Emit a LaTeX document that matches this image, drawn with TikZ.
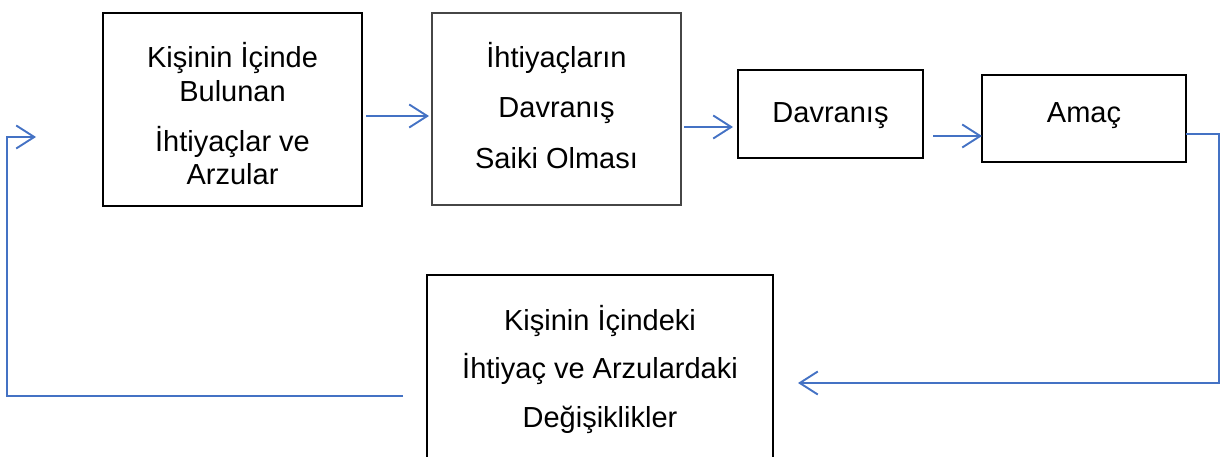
\documentclass[tikz,border=0pt]{standalone}
\usepackage{fontspec}
\setmainfont{Liberation Sans}
\usetikzlibrary{arrows.meta,calc}
\definecolor{arrblue}{RGB}{68,114,196}
\definecolor{boxgray}{RGB}{70,70,70}
\begin{document}
\begin{tikzpicture}[x=1pt,y=-1pt,
  box/.style={draw=black,line width=1.8pt,inner sep=0pt,outer sep=0pt,rectangle},
  lbl/.style={anchor=base,inner sep=0pt,font=\fontsize{29}{33}\selectfont},
  arr/.style={draw=arrblue,line width=1.9pt,-{Straight Barb[length=18pt,width=23pt,line width=1.9pt]}}]
\useasboundingbox (0,0) rectangle (1225,457);
\clip (0,0) rectangle (1225,457);
\node[box,minimum width=259pt,minimum height=193pt] (b1) at (232.5,109.5) {};
\node[box,draw=boxgray,line width=1.3pt,minimum width=249pt,minimum height=192pt] (b2) at (556.5,109) {};
\node[box,minimum width=185pt,minimum height=88pt] (b3) at (830.5,114) {};
\node[box,minimum width=204pt,minimum height=87pt] (b4) at (1084,118.5) {};
\node[box,minimum width=346pt,minimum height=200pt] (b5) at (600,375) {};
% labels
\node[lbl] (t1a) at (232.5,68) {Kişinin İçinde};
\node[lbl] (t1b) at (232.5,102) {Bulunan};
\node[lbl] (t1c) at (232.5,152) {İhtiyaçlar ve};
\node[lbl] (t1d) at (232.5,185) {Arzular};
\node[lbl] (t2a) at (556.5,68) {İhtiyaçların};
\node[lbl] (t2b) at (556.5,118) {Davranış};
\node[lbl] (t2c) at (556.5,168) {Saiki Olması};
\node[lbl] (t3) at (830.5,123) {Davranış};
\node[lbl] (t4) at (1084,123) {Amaç};
\node[lbl] (t5a) at (600,330) {Kişinin İçindeki};
\node[lbl] (t5b) at (600,378) {İhtiyaç ve Arzulardaki};
\node[lbl] (t5c) at (600,427) {Değişiklikler};
% connectors
\draw[arr] ($(b1.east)+(4,6.5)$) -- ($(b2.west)+(-3,7)$);
\draw[arr] ($(b2.east)+(3,18)$) -- ($(b3.west)+(-5,13)$);
\draw[arr] ($(b3.east)+(10,22)$) -- ($(b4.west)+(0,17.5)$);
\draw[arr] ($(b4.east)+(0,15.5)$) -- ++(33,0) |- ($(b5.east)+(25,8)$);
\draw[arr] ($(b5.west)+(-24,21)$) -| ($(b1.west)+(-96,27.5)$) -- ($(b1.west)+(-67,27.5)$);
\end{tikzpicture}
\end{document}
